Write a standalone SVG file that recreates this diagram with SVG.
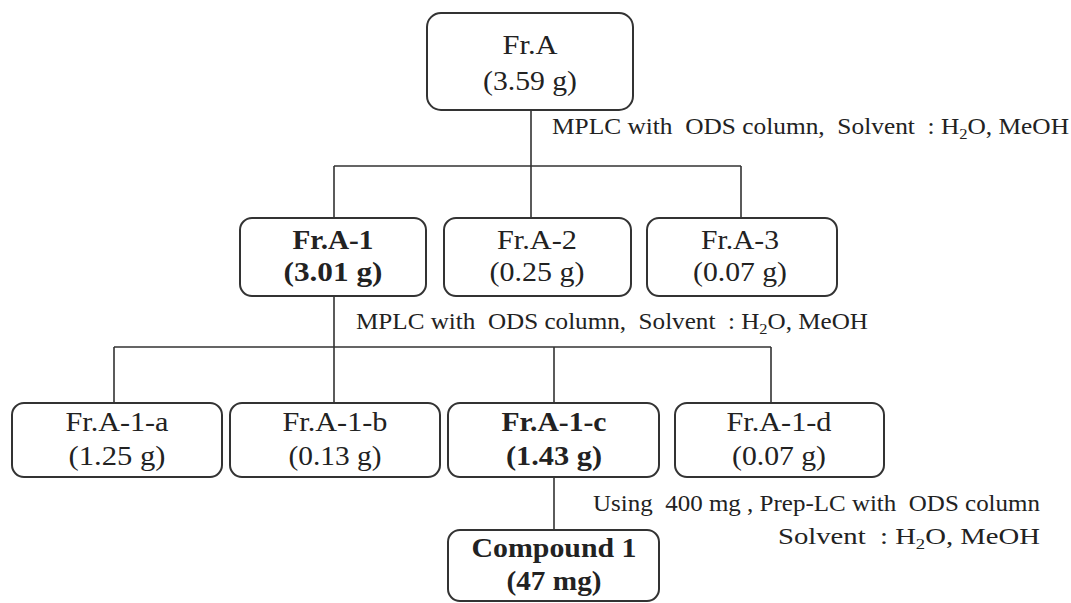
<svg xmlns="http://www.w3.org/2000/svg" width="1071" height="603" viewBox="0 0 1071 603">
<style>
.box{fill:#fff;stroke:#333;stroke-width:2}
.t{font-family:"Liberation Serif","Times New Roman",Times,serif;font-size:28px;fill:#222;text-anchor:middle}
.b{font-weight:bold}
.n{font-family:"Liberation Serif","Times New Roman",Times,serif;font-size:23px;fill:#222}
.ln{fill:none;stroke:#333;stroke-width:1.6}
</style>
<rect width="1071" height="603" fill="#fff"/>
<g id="connectors">
<path class="ln" d="M531,110V166M334,166H741M334,166V218M531,166V218M741,166V218"/>
<path class="ln" d="M334,296V347M114,347H771M114,347V403M334,347V403M554,347V403M771,347V403"/>
<path class="ln" d="M554,477V530"/>
</g>
<g id="labels">
<text class="n" x="552" y="134" textLength="517" lengthAdjust="spacingAndGlyphs">MPLC with &#160;ODS column, &#160;Solvent &#160;: H<tspan dy="5" font-size="15">2</tspan><tspan dy="-5">O, MeOH</tspan></text>
<text class="n" x="356" y="329" textLength="512" lengthAdjust="spacingAndGlyphs">MPLC with &#160;ODS column, &#160;Solvent &#160;: H<tspan dy="5" font-size="15">2</tspan><tspan dy="-5">O, MeOH</tspan></text>
<text class="n" x="593" y="511" textLength="447" lengthAdjust="spacingAndGlyphs">Using &#160;400 mg , Prep-LC with &#160;ODS column</text>
<text class="n" x="778" y="544" textLength="262" lengthAdjust="spacingAndGlyphs">Solvent &#160;: H<tspan dy="5" font-size="15">2</tspan><tspan dy="-5">O, MeOH</tspan></text>
</g>
<g id="frA">
<rect class="box" x="427" y="13" width="206" height="97" rx="14"/>
<text class="t" x="530" y="54" textLength="55" lengthAdjust="spacingAndGlyphs">Fr.A</text>
<text class="t" x="530" y="90" textLength="94" lengthAdjust="spacingAndGlyphs">(3.59 g)</text>
</g>
<g id="frA1">
<rect class="box" x="240" y="218" width="186" height="78" rx="12"/>
<text class="t b" x="333" y="249" textLength="81" lengthAdjust="spacingAndGlyphs">Fr.A-1</text>
<text class="t b" x="333" y="281" textLength="99" lengthAdjust="spacingAndGlyphs">(3.01 g)</text>
</g>
<g id="frA2">
<rect class="box" x="444" y="218" width="187" height="78" rx="12"/>
<text class="t" x="537" y="249" textLength="80" lengthAdjust="spacingAndGlyphs">Fr.A-2</text>
<text class="t" x="537" y="281" textLength="95" lengthAdjust="spacingAndGlyphs">(0.25 g)</text>
</g>
<g id="frA3">
<rect class="box" x="647" y="218" width="190" height="78" rx="12"/>
<text class="t" x="740" y="249" textLength="78" lengthAdjust="spacingAndGlyphs">Fr.A-3</text>
<text class="t" x="740" y="281" textLength="94" lengthAdjust="spacingAndGlyphs">(0.07 g)</text>
</g>
<g id="frA1a">
<rect class="box" x="12" y="403" width="210" height="74" rx="12"/>
<text class="t" x="117" y="431" textLength="103" lengthAdjust="spacingAndGlyphs">Fr.A-1-a</text>
<text class="t" x="117" y="465" textLength="97" lengthAdjust="spacingAndGlyphs">(1.25 g)</text>
</g>
<g id="frA1b">
<rect class="box" x="230" y="403" width="210" height="74" rx="12"/>
<text class="t" x="335" y="431" textLength="105" lengthAdjust="spacingAndGlyphs">Fr.A-1-b</text>
<text class="t" x="335" y="465" textLength="93" lengthAdjust="spacingAndGlyphs">(0.13 g)</text>
</g>
<g id="frA1c">
<rect class="box" x="448" y="403" width="211" height="74" rx="12"/>
<text class="t b" x="554" y="431" textLength="105" lengthAdjust="spacingAndGlyphs">Fr.A-1-c</text>
<text class="t b" x="554" y="465" textLength="96" lengthAdjust="spacingAndGlyphs">(1.43 g)</text>
</g>
<g id="frA1d">
<rect class="box" x="675" y="403" width="209" height="74" rx="12"/>
<text class="t" x="779" y="431" textLength="105" lengthAdjust="spacingAndGlyphs">Fr.A-1-d</text>
<text class="t" x="779" y="465" textLength="94" lengthAdjust="spacingAndGlyphs">(0.07 g)</text>
</g>
<g id="compound1">
<rect class="box" x="448" y="530" width="211" height="71" rx="12"/>
<text class="t b" x="554" y="557" textLength="165" lengthAdjust="spacingAndGlyphs">Compound 1</text>
<text class="t b" x="554" y="590" textLength="95" lengthAdjust="spacingAndGlyphs">(47 mg)</text>
</g>
</svg>
